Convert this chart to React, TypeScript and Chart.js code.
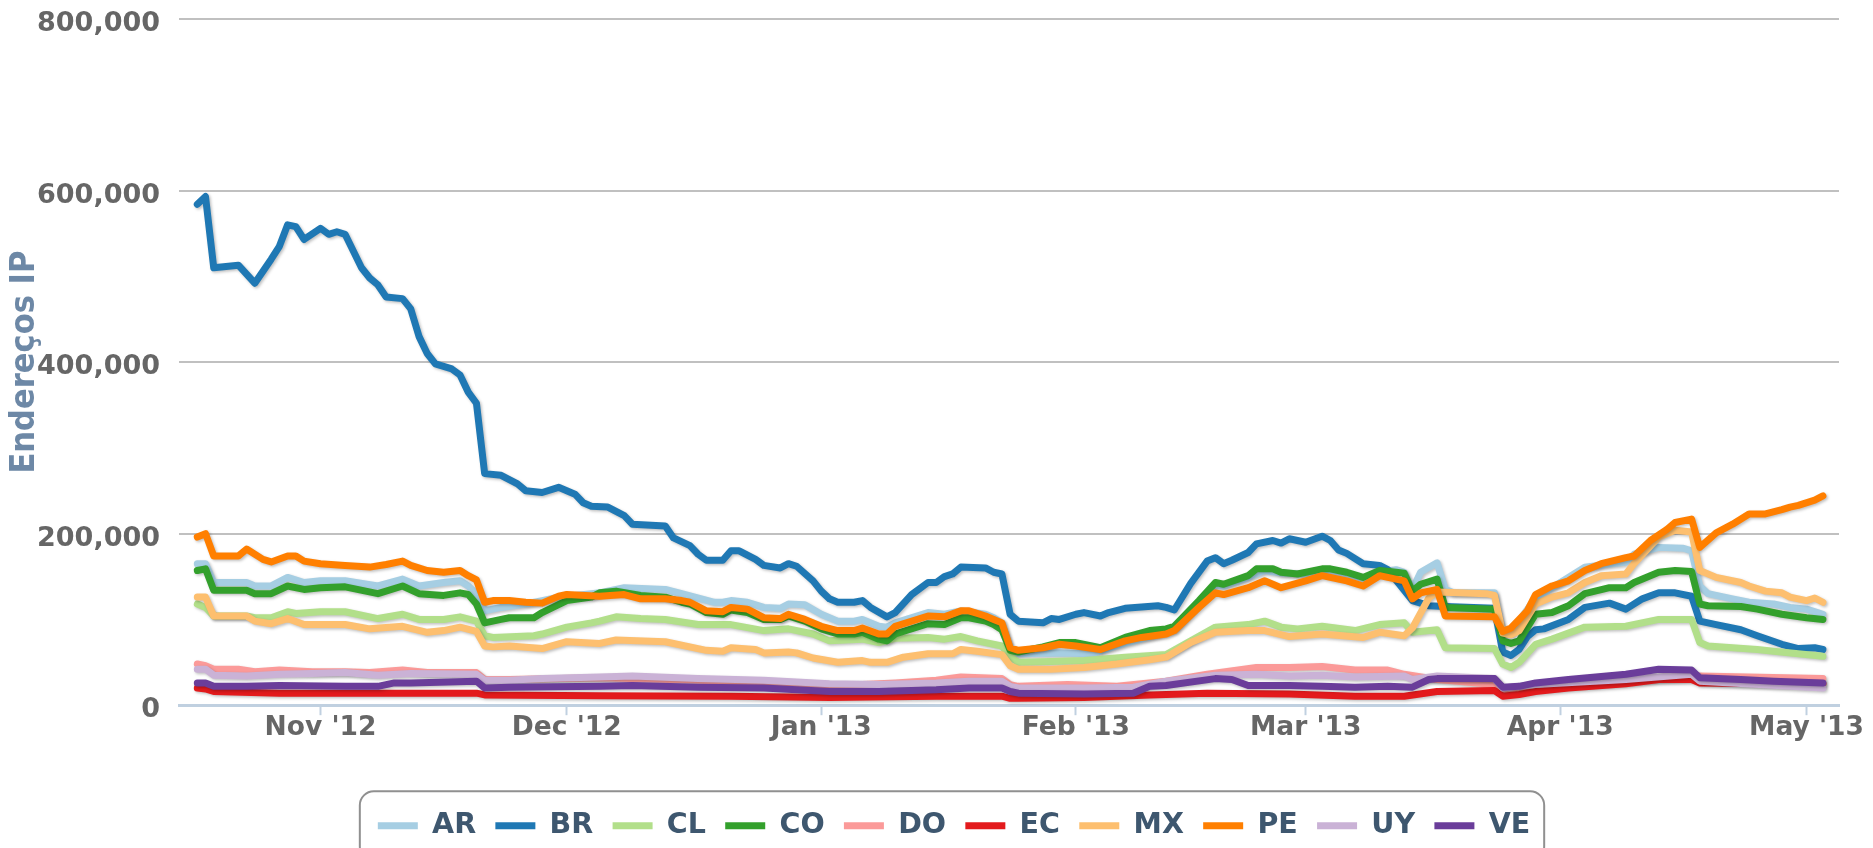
import { useEffect, useRef } from 'react';
import { Chart, registerables } from 'chart.js';

Chart.register(...registerables);

// [date, IP addresses in thousands]
type Pt = [string, number];

const SERIES_NAMES = ['AR', 'BR', 'CL', 'CO', 'DO', 'EC', 'MX', 'PE', 'UY', 'VE'];
const SERIES_COLORS = ['#a6cee3', '#1f78b4', '#b2df8a', '#33a02c', '#fb9a99', '#e31a1c', '#fdbf6f', '#ff7f00', '#cab2d6', '#6a3d9a'];

const AR: Pt[] = [
  ['2012-10-17', 165], ['2012-10-18', 165], ['2012-10-19', 143], ['2012-10-23', 143], ['2012-10-24', 139], ['2012-10-26', 139],
  ['2012-10-28', 149], ['2012-10-30', 143], ['2012-11-01', 145], ['2012-11-04', 145], ['2012-11-08', 139], ['2012-11-11', 147],
  ['2012-11-13', 139], ['2012-11-16', 143], ['2012-11-18', 145], ['2012-11-19', 139], ['2012-11-20', 130], ['2012-11-21', 110],
  ['2012-11-23', 114], ['2012-11-26', 118], ['2012-11-28', 122], ['2012-11-30', 126], ['2012-12-04', 130], ['2012-12-05', 131],
  ['2012-12-08', 137], ['2012-12-13', 135], ['2012-12-15', 130], ['2012-12-19', 120], ['2012-12-20', 120], ['2012-12-21', 122],
  ['2012-12-23', 120], ['2012-12-25', 114], ['2012-12-27', 113], ['2012-12-28', 118], ['2012-12-30', 117], ['2013-01-01', 106],
  ['2013-01-03', 98], ['2013-01-05', 98], ['2013-01-06', 100], ['2013-01-08', 92], ['2013-01-09', 91], ['2013-01-10', 96],
  ['2013-01-14', 108], ['2013-01-16', 106], ['2013-01-18', 110], ['2013-01-21', 106], ['2013-01-22', 102], ['2013-01-23', 96],
  ['2013-01-24', 65], ['2013-01-25', 60], ['2013-01-30', 61], ['2013-02-03', 60], ['2013-02-07', 72], ['2013-02-12', 85],
  ['2013-02-13', 88], ['2013-02-16', 120], ['2013-02-18', 140], ['2013-02-19', 139], ['2013-02-22', 149], ['2013-02-24', 157],
  ['2013-02-26', 154], ['2013-03-01', 153], ['2013-03-03', 157], ['2013-03-06', 153], ['2013-03-08', 148], ['2013-03-10', 155],
  ['2013-03-12', 158], ['2013-03-13', 155], ['2013-03-14', 135], ['2013-03-15', 155], ['2013-03-17', 166], ['2013-03-18', 135],
  ['2013-03-19', 131], ['2013-03-24', 131], ['2013-03-25', 83], ['2013-03-26', 85], ['2013-03-29', 125], ['2013-04-02', 149],
  ['2013-04-04', 161], ['2013-04-09', 167], ['2013-04-10', 176], ['2013-04-13', 184], ['2013-04-16', 183], ['2013-04-17', 180],
  ['2013-04-18', 139], ['2013-04-19', 130], ['2013-04-22', 124], ['2013-04-24', 120], ['2013-04-27', 118], ['2013-04-29', 114],
  ['2013-05-01', 112], ['2013-05-03', 106],
];

const BR: Pt[] = [
  ['2012-10-17', 584], ['2012-10-18', 593], ['2012-10-19', 510], ['2012-10-22', 513], ['2012-10-24', 492], ['2012-10-26', 520],
  ['2012-10-27', 535], ['2012-10-28', 560], ['2012-10-29', 558], ['2012-10-30', 543], ['2012-11-01', 556], ['2012-11-02', 549],
  ['2012-11-03', 552], ['2012-11-04', 549], ['2012-11-06', 510], ['2012-11-07', 498], ['2012-11-08', 490], ['2012-11-09', 476],
  ['2012-11-11', 474], ['2012-11-12', 462], ['2012-11-13', 430], ['2012-11-14', 410], ['2012-11-15', 398], ['2012-11-17', 392],
  ['2012-11-18', 385], ['2012-11-19', 365], ['2012-11-20', 352], ['2012-11-21', 270], ['2012-11-23', 268], ['2012-11-25', 258],
  ['2012-11-26', 250], ['2012-11-28', 248], ['2012-11-30', 254], ['2012-12-02', 246], ['2012-12-03', 236], ['2012-12-04', 232],
  ['2012-12-06', 231], ['2012-12-08', 221], ['2012-12-09', 211], ['2012-12-13', 209], ['2012-12-14', 195], ['2012-12-16', 186],
  ['2012-12-17', 176], ['2012-12-18', 169], ['2012-12-20', 169], ['2012-12-21', 180], ['2012-12-22', 180], ['2012-12-24', 170],
  ['2012-12-25', 163], ['2012-12-27', 160], ['2012-12-28', 165], ['2012-12-29', 162], ['2012-12-31', 145], ['2013-01-01', 133],
  ['2013-01-02', 124], ['2013-01-03', 120], ['2013-01-05', 120], ['2013-01-06', 122], ['2013-01-07', 114], ['2013-01-09', 103],
  ['2013-01-10', 108], ['2013-01-12', 129], ['2013-01-14', 143], ['2013-01-15', 143], ['2013-01-16', 150], ['2013-01-17', 153],
  ['2013-01-18', 161], ['2013-01-21', 160], ['2013-01-22', 155], ['2013-01-23', 153], ['2013-01-24', 106], ['2013-01-25', 98],
  ['2013-01-28', 96], ['2013-01-29', 101], ['2013-01-30', 100], ['2013-02-01', 106], ['2013-02-02', 108], ['2013-02-04', 104],
  ['2013-02-05', 108], ['2013-02-07', 113], ['2013-02-11', 116], ['2013-02-12', 114], ['2013-02-13', 111], ['2013-02-15', 142],
  ['2013-02-17', 168], ['2013-02-18', 172], ['2013-02-19', 165], ['2013-02-20', 169], ['2013-02-22', 178], ['2013-02-23', 188],
  ['2013-02-25', 192], ['2013-02-26', 189], ['2013-02-27', 194], ['2013-03-01', 190], ['2013-03-03', 197], ['2013-03-04', 192],
  ['2013-03-05', 181], ['2013-03-06', 177], ['2013-03-08', 165], ['2013-03-10', 163], ['2013-03-11', 158], ['2013-03-12', 146],
  ['2013-03-14', 122], ['2013-03-16', 116], ['2013-03-18', 115], ['2013-03-24', 113], ['2013-03-25', 62], ['2013-03-26', 58],
  ['2013-03-27', 65], ['2013-03-28', 80], ['2013-03-29', 88], ['2013-03-30', 89], ['2013-04-02', 100], ['2013-04-04', 114],
  ['2013-04-07', 119], ['2013-04-09', 112], ['2013-04-11', 124], ['2013-04-13', 131], ['2013-04-15', 131], ['2013-04-17', 127],
  ['2013-04-18', 98], ['2013-04-20', 94], ['2013-04-23', 88], ['2013-04-25', 81], ['2013-04-28', 71], ['2013-04-30', 66],
  ['2013-05-02', 67], ['2013-05-03', 65],
];

const CL: Pt[] = [
  ['2012-10-17', 118], ['2012-10-18', 114], ['2012-10-19', 104], ['2012-10-23', 104], ['2012-10-24', 102], ['2012-10-26', 102],
  ['2012-10-28', 109], ['2012-10-29', 107], ['2012-11-01', 109], ['2012-11-04', 109], ['2012-11-08', 101], ['2012-11-11', 106],
  ['2012-11-13', 100], ['2012-11-16', 100], ['2012-11-18', 103], ['2012-11-20', 98], ['2012-11-21', 81], ['2012-11-22', 79],
  ['2012-11-27', 81], ['2012-11-28', 83], ['2012-12-01', 91], ['2012-12-04', 96], ['2012-12-05', 98], ['2012-12-07', 103],
  ['2012-12-10', 101], ['2012-12-13', 100], ['2012-12-17', 94], ['2012-12-21', 94], ['2012-12-25', 87], ['2012-12-28', 89],
  ['2012-12-31', 83], ['2013-01-02', 75], ['2013-01-06', 77], ['2013-01-08', 73], ['2013-01-10', 78], ['2013-01-14', 79],
  ['2013-01-16', 77], ['2013-01-18', 80], ['2013-01-20', 75], ['2013-01-23', 69], ['2013-01-24', 57], ['2013-01-25', 50],
  ['2013-01-29', 51], ['2013-02-02', 52], ['2013-02-07', 56], ['2013-02-12', 59], ['2013-02-15', 75], ['2013-02-18', 91],
  ['2013-02-22', 94], ['2013-02-24', 98], ['2013-02-26', 91], ['2013-02-28', 89], ['2013-03-03', 92], ['2013-03-07', 87],
  ['2013-03-10', 94], ['2013-03-13', 96], ['2013-03-14', 85], ['2013-03-17', 88], ['2013-03-18', 67], ['2013-03-24', 66],
  ['2013-03-25', 48], ['2013-03-26', 44], ['2013-03-27', 50], ['2013-03-29', 71], ['2013-03-31', 77], ['2013-04-04', 91],
  ['2013-04-09', 92], ['2013-04-13', 100], ['2013-04-17', 100], ['2013-04-18', 73], ['2013-04-19', 69], ['2013-04-25', 65],
  ['2013-04-27', 63], ['2013-05-03', 57],
];

const CO: Pt[] = [
  ['2012-10-17', 157], ['2012-10-18', 159], ['2012-10-19', 134], ['2012-10-23', 134], ['2012-10-24', 130], ['2012-10-26', 130],
  ['2012-10-28', 139], ['2012-10-30', 135], ['2012-11-01', 137], ['2012-11-04', 138], ['2012-11-08', 130], ['2012-11-11', 139],
  ['2012-11-13', 130], ['2012-11-16', 128], ['2012-11-18', 131], ['2012-11-19', 129], ['2012-11-20', 118], ['2012-11-21', 96],
  ['2012-11-23', 100], ['2012-11-24', 102], ['2012-11-27', 102], ['2012-11-28', 108], ['2012-12-01', 122], ['2012-12-04', 126],
  ['2012-12-05', 131], ['2012-12-07', 133], ['2012-12-10', 128], ['2012-12-13', 126], ['2012-12-15', 120], ['2012-12-16', 118],
  ['2012-12-18', 108], ['2012-12-20', 106], ['2012-12-21', 111], ['2012-12-23', 108], ['2012-12-25', 100], ['2012-12-27', 100],
  ['2012-12-28', 104], ['2012-12-30', 98], ['2013-01-01', 89], ['2013-01-03', 83], ['2013-01-05', 83], ['2013-01-06', 85],
  ['2013-01-08', 77], ['2013-01-09', 75], ['2013-01-10', 83], ['2013-01-14', 95], ['2013-01-16', 94], ['2013-01-18', 102],
  ['2013-01-19', 102], ['2013-01-21', 98], ['2013-01-22', 94], ['2013-01-23', 88], ['2013-01-24', 64], ['2013-01-25', 62],
  ['2013-01-28', 68], ['2013-01-30', 73], ['2013-02-01', 73], ['2013-02-04', 67], ['2013-02-07', 79], ['2013-02-10', 87],
  ['2013-02-12', 89], ['2013-02-13', 92], ['2013-02-16', 122], ['2013-02-18', 143], ['2013-02-19', 141], ['2013-02-22', 151],
  ['2013-02-23', 159], ['2013-02-25', 159], ['2013-02-26', 155], ['2013-02-28', 153], ['2013-03-03', 159], ['2013-03-04', 159],
  ['2013-03-06', 155], ['2013-03-08', 149], ['2013-03-10', 157], ['2013-03-12', 155], ['2013-03-13', 154], ['2013-03-14', 133],
  ['2013-03-15', 141], ['2013-03-17', 147], ['2013-03-18', 114], ['2013-03-24', 112], ['2013-03-25', 75], ['2013-03-26', 72],
  ['2013-03-27', 75], ['2013-03-29', 106], ['2013-03-31', 108], ['2013-04-02', 116], ['2013-04-04', 130], ['2013-04-07', 137],
  ['2013-04-09', 137], ['2013-04-10', 143], ['2013-04-13', 155], ['2013-04-15', 157], ['2013-04-17', 156], ['2013-04-18', 118],
  ['2013-04-19', 116], ['2013-04-23', 115], ['2013-04-25', 112], ['2013-04-28', 106], ['2013-05-01', 102], ['2013-05-03', 100],
];

const DO: Pt[] = [
  ['2012-10-17', 48], ['2012-10-18', 46], ['2012-10-19', 42], ['2012-10-22', 42], ['2012-10-24', 39], ['2012-10-27', 41],
  ['2012-10-31', 39], ['2012-11-04', 39], ['2012-11-07', 38], ['2012-11-11', 41], ['2012-11-14', 38], ['2012-11-20', 38],
  ['2012-11-21', 30], ['2012-11-24', 30], ['2012-12-05', 32], ['2012-12-17', 29], ['2012-12-29', 24], ['2013-01-06', 24],
  ['2013-01-10', 26], ['2013-01-15', 29], ['2013-01-18', 33], ['2013-01-23', 31], ['2013-01-24', 24], ['2013-01-25', 22],
  ['2013-01-31', 24], ['2013-02-06', 22], ['2013-02-12', 28], ['2013-02-17', 36], ['2013-02-23', 44], ['2013-02-27', 44],
  ['2013-03-03', 45], ['2013-03-07', 41], ['2013-03-11', 41], ['2013-03-13', 36], ['2013-03-17', 30], ['2013-03-24', 24],
  ['2013-03-25', 16], ['2013-03-29', 21], ['2013-04-09', 28], ['2013-04-17', 32], ['2013-04-18', 34], ['2013-05-03', 31],
];

const EC: Pt[] = [
  ['2012-10-17', 20], ['2012-10-18', 19], ['2012-10-19', 16], ['2012-10-27', 14], ['2012-11-20', 14], ['2012-11-21', 12],
  ['2012-12-05', 11], ['2012-12-21', 10.5], ['2013-01-02', 9], ['2013-01-15', 10.5], ['2013-01-23', 10.5], ['2013-01-24', 8],
  ['2013-01-25', 8], ['2013-02-02', 9], ['2013-02-10', 12], ['2013-02-17', 14], ['2013-02-27', 13], ['2013-03-07', 10.5],
  ['2013-03-13', 10.5], ['2013-03-17', 16], ['2013-03-24', 17], ['2013-03-25', 10.5], ['2013-03-27', 12.5], ['2013-03-29', 16],
  ['2013-04-02', 20], ['2013-04-09', 25], ['2013-04-13', 30], ['2013-04-17', 30], ['2013-04-18', 26], ['2013-04-27', 25],
  ['2013-05-03', 25],
];

const MX: Pt[] = [
  ['2012-10-17', 126], ['2012-10-18', 126], ['2012-10-19', 104], ['2012-10-23', 104], ['2012-10-24', 98], ['2012-10-26', 95],
  ['2012-10-28', 101], ['2012-10-30', 94], ['2012-11-04', 94], ['2012-11-07', 89], ['2012-11-11', 92], ['2012-11-14', 85],
  ['2012-11-16', 87], ['2012-11-18', 91], ['2012-11-20', 86], ['2012-11-21', 69], ['2012-11-22', 68], ['2012-11-24', 69],
  ['2012-11-28', 66], ['2012-12-01', 74], ['2012-12-05', 72], ['2012-12-07', 76], ['2012-12-13', 74], ['2012-12-18', 64],
  ['2012-12-20', 63], ['2012-12-21', 67], ['2012-12-24', 65], ['2012-12-25', 61], ['2012-12-28', 62], ['2012-12-29', 61],
  ['2012-12-31', 55], ['2013-01-03', 50], ['2013-01-06', 52], ['2013-01-07', 50], ['2013-01-09', 50], ['2013-01-11', 56],
  ['2013-01-14', 60], ['2013-01-17', 60], ['2013-01-18', 65], ['2013-01-20', 63], ['2013-01-23', 59], ['2013-01-24', 46],
  ['2013-01-25', 42], ['2013-01-29', 42], ['2013-02-02', 44], ['2013-02-06', 48], ['2013-02-10', 53], ['2013-02-12', 56],
  ['2013-02-15', 73], ['2013-02-18', 85], ['2013-02-22', 87], ['2013-02-24', 87], ['2013-02-27', 80], ['2013-03-03', 83],
  ['2013-03-08', 79], ['2013-03-10', 85], ['2013-03-13', 81], ['2013-03-14', 90], ['2013-03-16', 125], ['2013-03-17', 132],
  ['2013-03-23', 130], ['2013-03-24', 128], ['2013-03-25', 84], ['2013-03-26', 82], ['2013-03-27', 87], ['2013-03-29', 118],
  ['2013-03-31', 126], ['2013-04-02', 131], ['2013-04-04', 143], ['2013-04-06', 151], ['2013-04-09', 153], ['2013-04-10', 165],
  ['2013-04-13', 196], ['2013-04-15', 204], ['2013-04-17', 202], ['2013-04-18', 157], ['2013-04-20', 149], ['2013-04-23', 143],
  ['2013-04-24', 139], ['2013-04-26', 133], ['2013-04-28', 131], ['2013-04-29', 126], ['2013-05-01', 122], ['2013-05-02', 125],
  ['2013-05-03', 120],
];

const PE: Pt[] = [
  ['2012-10-17', 196], ['2012-10-18', 200], ['2012-10-19', 174], ['2012-10-22', 174], ['2012-10-23', 182], ['2012-10-25', 170],
  ['2012-10-26', 167], ['2012-10-28', 174], ['2012-10-29', 174], ['2012-10-30', 168], ['2012-11-01', 165], ['2012-11-04', 163],
  ['2012-11-07', 161], ['2012-11-09', 164], ['2012-11-11', 168], ['2012-11-12', 163], ['2012-11-14', 157], ['2012-11-16', 155],
  ['2012-11-18', 157], ['2012-11-19', 151], ['2012-11-20', 146], ['2012-11-21', 120], ['2012-11-22', 122], ['2012-11-24', 122],
  ['2012-11-26', 120], ['2012-11-28', 119], ['2012-11-30', 127], ['2012-12-01', 129], ['2012-12-05', 127], ['2012-12-08', 129],
  ['2012-12-10', 124], ['2012-12-13', 124], ['2012-12-15', 122], ['2012-12-16', 120], ['2012-12-18', 110], ['2012-12-20', 109],
  ['2012-12-21', 114], ['2012-12-23', 112], ['2012-12-25', 102], ['2012-12-27', 101], ['2012-12-28', 106], ['2012-12-30', 100],
  ['2013-01-01', 92], ['2013-01-03', 87], ['2013-01-05', 87], ['2013-01-06', 90], ['2013-01-08', 83], ['2013-01-09', 83],
  ['2013-01-10', 92], ['2013-01-14', 104], ['2013-01-16', 103], ['2013-01-18', 110], ['2013-01-19', 110], ['2013-01-21', 104],
  ['2013-01-22', 100], ['2013-01-23', 96], ['2013-01-24', 67], ['2013-01-25', 64], ['2013-01-28', 67], ['2013-01-30', 71],
  ['2013-02-01', 69], ['2013-02-04', 65], ['2013-02-07', 75], ['2013-02-09', 79], ['2013-02-12', 83], ['2013-02-13', 87],
  ['2013-02-16', 114], ['2013-02-18', 131], ['2013-02-19', 129], ['2013-02-22', 137], ['2013-02-24', 145], ['2013-02-26', 137],
  ['2013-03-01', 145], ['2013-03-03', 151], ['2013-03-06', 145], ['2013-03-08', 139], ['2013-03-10', 151], ['2013-03-12', 147],
  ['2013-03-13', 145], ['2013-03-14', 124], ['2013-03-15', 131], ['2013-03-17', 135], ['2013-03-18', 104], ['2013-03-24', 103],
  ['2013-03-25', 86], ['2013-03-26', 90], ['2013-03-28', 110], ['2013-03-29', 129], ['2013-03-31', 139], ['2013-04-02', 145],
  ['2013-04-04', 157], ['2013-04-06', 165], ['2013-04-09', 172], ['2013-04-10', 174], ['2013-04-12', 192], ['2013-04-14', 205],
  ['2013-04-15', 213], ['2013-04-17', 217], ['2013-04-18', 184], ['2013-04-20', 201], ['2013-04-22', 211], ['2013-04-24', 223],
  ['2013-04-26', 223], ['2013-04-28', 228], ['2013-04-29', 231], ['2013-04-30', 233], ['2013-05-02', 239], ['2013-05-03', 244],
];

const UY: Pt[] = [
  ['2012-10-17', 42], ['2012-10-18', 42], ['2012-10-19', 35], ['2012-10-23', 34], ['2012-10-27', 36], ['2012-10-31', 37],
  ['2012-11-04', 38], ['2012-11-08', 35], ['2012-11-12', 37], ['2012-11-20', 36], ['2012-11-21', 29], ['2012-11-24', 29],
  ['2012-11-28', 31], ['2012-12-05', 33], ['2012-12-09', 34], ['2012-12-17', 31], ['2012-12-25', 29], ['2013-01-02', 25],
  ['2013-01-08', 24], ['2013-01-15', 26], ['2013-01-19', 28], ['2013-01-23', 28], ['2013-01-24', 22], ['2013-01-25', 20],
  ['2013-02-02', 20], ['2013-02-08', 21], ['2013-02-12', 28], ['2013-02-18', 35], ['2013-02-23', 36], ['2013-02-27', 34],
  ['2013-03-03', 35], ['2013-03-07', 33], ['2013-03-13', 34], ['2013-03-14', 30], ['2013-03-17', 34], ['2013-03-24', 31],
  ['2013-03-25', 20], ['2013-03-29', 24], ['2013-04-09', 30], ['2013-04-17', 36], ['2013-04-18', 28], ['2013-05-03', 20],
];

const VE: Pt[] = [
  ['2012-10-17', 26], ['2012-10-18', 26], ['2012-10-19', 22], ['2012-10-23', 22], ['2012-10-27', 23], ['2012-11-04', 22],
  ['2012-11-08', 22], ['2012-11-10', 26], ['2012-11-12', 26], ['2012-11-20', 28], ['2012-11-21', 20], ['2012-11-24', 21],
  ['2012-12-05', 22], ['2012-12-09', 23], ['2012-12-17', 21], ['2012-12-25', 20], ['2013-01-02', 16], ['2013-01-08', 16],
  ['2013-01-15', 18], ['2013-01-19', 20], ['2013-01-23', 20], ['2013-01-24', 16], ['2013-01-25', 14], ['2013-02-02', 13],
  ['2013-02-08', 14], ['2013-02-10', 22], ['2013-02-12', 23], ['2013-02-18', 31], ['2013-02-20', 30], ['2013-02-22', 23],
  ['2013-02-27', 23], ['2013-03-03', 22], ['2013-03-07', 21], ['2013-03-11', 22], ['2013-03-14', 21], ['2013-03-16', 30],
  ['2013-03-17', 31], ['2013-03-24', 31], ['2013-03-25', 21], ['2013-03-27', 22], ['2013-03-29', 26], ['2013-04-02', 30],
  ['2013-04-09', 36], ['2013-04-13', 42], ['2013-04-17', 41], ['2013-04-18', 32], ['2013-04-23', 30], ['2013-04-27', 28],
  ['2013-05-03', 26],
];

const SERIES_DATA: Pt[][] = [AR, BR, CL, CO, DO, EC, MX, PE, UY, VE];

const MONTH_TICKS = ['2012-11-01', '2012-12-01', '2013-01-01', '2013-02-01', '2013-03-01', '2013-04-01', '2013-05-01'];
const MONTH_LABELS = ["Nov '12", "Dec '12", "Jan '13", "Feb '13", "Mar '13", "Apr '13", "May '13"];
const X_MIN = Date.UTC(2012, 9, 14, 18, 30);
const X_MAX = Date.UTC(2013, 4, 4, 23, 0);
const Y_MAX = 800000;
const Y_STEP = 200000;
const UNIT = 1000;

const Y_TITLE = 'Endereços IP';

const LEGEND_SHIFT_X = 34.5;
const LEGEND_SHIFT_Y = 2;

const lineShadow = {
  id: 'lineShadow',
  beforeDatasetDraw(chart: any) {
    const c = chart.ctx;
    c.save();
    c.shadowColor = 'rgba(0,0,0,0.25)';
    c.shadowBlur = 3;
    c.shadowOffsetX = 1.5;
    c.shadowOffsetY = 1.5;
  },
  afterDatasetDraw(chart: any) {
    chart.ctx.restore();
  },
};

const legendFrame = {
  id: 'legendFrame',
  afterLayout(chart: any) {
    const lg = chart.legend;
    if (!lg) return;
    lg.left += LEGEND_SHIFT_X;
    lg.right += LEGEND_SHIFT_X;
    lg.top += LEGEND_SHIFT_Y;
    lg.bottom += LEGEND_SHIFT_Y;
  },
  afterDraw(chart: any) {
    const lg = chart.legend;
    if (!lg || !lg.legendHitBoxes || !lg.legendHitBoxes.length) return;
    const hb = lg.legendHitBoxes;
    const first = hb[0];
    const last = hb[hb.length - 1];
    const x0 = first.left - 18;
    const x1 = last.left + last.width + 14;
    const yc = first.top + first.height / 2;
    const y0 = yc - 34.5;
    const y1 = yc + 34.5;
    const r = 14;
    const c = chart.ctx;
    c.save();
    c.beginPath();
    c.moveTo(x0 + r, y0);
    c.lineTo(x1 - r, y0);
    c.arcTo(x1, y0, x1, y0 + r, r);
    c.lineTo(x1, y1 - r);
    c.arcTo(x1, y1, x1 - r, y1, r);
    c.lineTo(x0 + r, y1);
    c.arcTo(x0, y1, x0, y1 - r, r);
    c.lineTo(x0, y0 + r);
    c.arcTo(x0, y0, x0 + r, y0, r);
    c.closePath();
    c.lineWidth = 2;
    c.strokeStyle = '#909090';
    c.stroke();
    c.restore();
  },
};

export default function App() {
  const canvasRef = useRef<HTMLCanvasElement | null>(null);

  useEffect(() => {
    if (!canvasRef.current) return;
    Chart.defaults.font.family = "'DejaVu Sans', sans-serif";

    const datasets = SERIES_NAMES.map((name, i) => ({
      label: name,
      data: SERIES_DATA[i].map(([d, v]) => ({ x: Date.parse(d), y: v * UNIT })),
      borderColor: SERIES_COLORS[i],
      backgroundColor: SERIES_COLORS[i],
      borderWidth: 7,
      pointRadius: 0,
      pointHoverRadius: 0,
      tension: 0,
      fill: false,
      borderJoinStyle: 'round' as const,
      borderCapStyle: 'round' as const,
      order: -i,
    }));

    const tickValues = MONTH_TICKS.map((d) => Date.parse(d));

    const chart = new Chart(canvasRef.current, {
      type: 'line',
      data: { datasets },
      plugins: [lineShadow, legendFrame],
      options: {
        animation: false,
        responsive: false,
        devicePixelRatio: 1,
        events: [],
        layout: { padding: { left: 0, right: 34, top: 19, bottom: 0 } },
        scales: {
          x: {
            type: 'linear',
            min: X_MIN,
            max: X_MAX,
            afterBuildTicks: (scale: any) => {
              scale.ticks = tickValues.map((value) => ({ value }));
            },
            afterFit: (scale: any) => {
              scale.height = 85;
              scale.paddingLeft = 0;
              scale.paddingRight = 0;
            },
            ticks: {
              autoSkip: false,
              maxRotation: 0,
              padding: 0,
              color: '#666666',
              font: { size: 26.5, weight: 'bold', lineHeight: 1 },
              callback: (value: any) => {
                const idx = tickValues.indexOf(Number(value));
                return idx >= 0 ? MONTH_LABELS[idx] : '';
              },
            },
            grid: {
              drawOnChartArea: false,
              drawTicks: true,
              tickLength: 10,
              tickWidth: 2,
              tickColor: '#C0D0E0',
            },
            border: { display: true, color: '#C0D0E0', width: 3 },
          },
          y: {
            type: 'linear',
            min: 0,
            max: Y_MAX,
            afterFit: (scale: any) => {
              scale.width = 179;
              scale.paddingTop = 0;
              scale.paddingBottom = 0;
            },
            ticks: {
              stepSize: Y_STEP,
              padding: 19,
              labelOffset: 5,
              color: '#666666',
              font: { size: 27, weight: 'bold' },
              callback: (value: any) => Number(value).toLocaleString('en-US'),
            },
            grid: {
              drawTicks: false,
              lineWidth: 2,
              color: (ctx: any) => (ctx.tick && ctx.tick.value === 0 ? 'rgba(0,0,0,0)' : '#C0C0C0'),
            },
            border: { display: false },
            title: {
              display: true,
              text: Y_TITLE,
              color: '#6d88a6',
              font: { family: "'DejaVu Sans Condensed', 'DejaVu Sans', sans-serif", size: 34, weight: 'bold' },
              padding: { top: 5, bottom: 0 },
            },
          },
        },
        plugins: {
          tooltip: { enabled: false },
          legend: {
            display: true,
            position: 'bottom',
            labels: {
              boxWidth: 40,
              boxHeight: 7,
              padding: 19.3,
              color: '#3e576f',
              font: { size: 28.5, weight: 'bold' },
              sort: (a: any, b: any) => a.datasetIndex - b.datasetIndex,
              generateLabels: (ch: any) =>
                (Chart.defaults.plugins.legend.labels.generateLabels as any)(ch).map((l: any) => ({
                  ...l,
                  lineWidth: 0,
                  fillStyle: l.strokeStyle,
                })),
            },
          },
        },
      } as any,
    });

    return () => chart.destroy();
  }, []);

  return (
    <div style={{ position: 'fixed', left: 0, top: 0, width: 1873, height: 848, background: '#ffffff' }}>
      <canvas ref={canvasRef} width={1873} height={848} style={{ display: 'block' }} />
    </div>
  );
}
